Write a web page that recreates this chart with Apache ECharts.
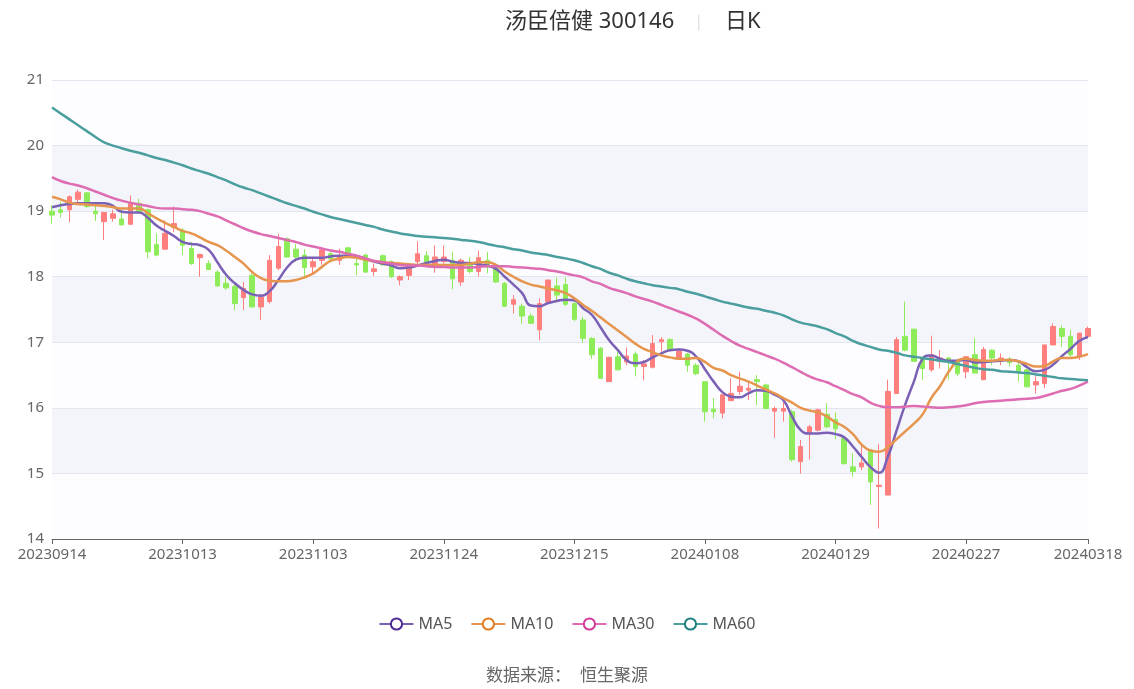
<!DOCTYPE html>
<html><head><meta charset="utf-8">
<script src="https://cdn.jsdelivr.net/npm/echarts@6/dist/echarts.min.js"></script>
<style>html,body{margin:0;padding:0;background:#fff}#c{width:1134px;height:689px}</style>
</head><body><div id="c"></div>
<script>
const dates = ['20230914','20230915','20230918','20230919','20230920','20230921','20230922','20230925','20230926','20230927','20230928',
'20231009','20231010','20231011','20231012','20231013','20231016','20231017','20231018','20231019','20231020','20231023','20231024','20231025','20231026','20231027','20231030','20231031',
'20231101','20231102','20231103','20231106','20231107','20231108','20231109','20231110','20231113','20231114','20231115','20231116','20231117','20231120','20231121','20231122','20231123','20231124','20231127','20231128','20231129','20231130',
'20231201','20231204','20231205','20231206','20231207','20231208','20231211','20231212','20231213','20231214','20231215','20231218','20231219','20231220','20231221','20231222','20231225','20231226','20231227','20231228','20231229',
'20240102','20240103','20240104','20240105','20240108','20240109','20240110','20240111','20240112','20240115','20240116','20240117','20240118','20240119','20240122','20240123','20240124','20240125','20240126','20240129','20240130','20240131',
'20240201','20240202','20240205','20240206','20240207','20240208','20240219','20240220','20240221','20240222','20240223','20240226','20240227','20240228','20240229',
'20240301','20240304','20240305','20240306','20240307','20240308','20240311','20240312','20240313','20240314','20240315','20240318'];

// [open, close, low, high]
const kline = [
[19.00,18.94,18.81,19.09],[19.02,18.98,18.90,19.14],[19.02,19.22,18.83,19.24],[19.18,19.29,19.09,19.33],[19.28,19.07,19.05,19.29],
[19.00,18.96,18.85,19.12],[18.84,18.98,18.56,18.99],[18.89,18.96,18.84,19.02],[18.88,18.79,18.78,19.02],[18.80,19.12,18.80,19.24],
[19.12,18.99,18.96,19.19],[19.02,18.38,18.28,19.04],[18.49,18.33,18.31,18.66],[18.42,18.66,18.42,18.86],[18.75,18.81,18.68,19.07],
[18.71,18.48,18.33,18.74],[18.43,18.20,18.18,18.53],[18.29,18.34,18.00,18.35],[18.20,18.11,18.10,18.25],[18.07,17.86,17.85,18.10],
[17.90,17.83,17.80,18.00],[17.85,17.59,17.49,17.92],[17.68,17.82,17.49,17.92],[18.02,17.54,17.53,18.05],[17.54,17.69,17.34,17.74],
[17.62,18.25,17.59,18.33],[18.13,18.46,18.10,18.65],[18.58,18.30,18.29,18.60],[18.42,18.30,18.23,18.50],[18.33,18.14,17.97,18.42],
[18.15,18.23,18.05,18.29],[18.25,18.41,18.18,18.41],[18.35,18.27,18.25,18.38],[18.25,18.30,18.18,18.43],[18.44,18.33,18.30,18.45],
[18.20,18.18,18.02,18.30],[18.33,18.07,18.06,18.35],[18.08,18.12,18.01,18.20],[18.32,18.18,18.17,18.34],[18.23,18.00,17.98,18.25],
[17.95,18.00,17.87,18.02],[18.02,18.18,17.95,18.20],[18.23,18.35,18.18,18.54],[18.32,18.20,18.18,18.39],[18.15,18.30,18.06,18.48],
[18.23,18.30,18.20,18.48],[18.25,17.97,17.81,18.38],[17.92,18.25,17.86,18.28],[18.20,18.08,18.05,18.30],[18.08,18.29,18.00,18.40],
[18.25,18.15,18.05,18.38],[18.18,17.92,17.91,18.20],[17.90,17.55,17.54,17.92],[17.58,17.65,17.44,17.72],[17.55,17.40,17.28,17.59],
[17.40,17.29,17.28,17.44],[17.19,17.59,17.03,17.67],[17.62,17.95,17.62,17.95],[17.86,17.72,17.64,17.99],[17.88,17.58,17.55,17.99],
[17.59,17.35,17.32,17.66],[17.34,17.06,16.99,17.39],[17.06,16.81,16.75,17.08],[16.91,16.45,16.45,16.93],[16.40,16.77,16.40,16.78],
[16.78,16.58,16.57,16.86],[16.70,16.79,16.65,16.92],[16.82,16.63,16.48,16.86],[16.63,16.67,16.42,16.73],[16.62,16.98,16.60,17.11],
[17.01,17.04,16.86,17.08],[17.04,16.88,16.87,17.06],[16.75,16.86,16.73,16.91],[16.82,16.65,16.55,16.84],[16.65,16.52,16.50,16.68],
[16.40,15.94,15.79,16.40],[15.98,15.94,15.84,16.15],[15.92,16.20,15.84,16.20],[16.11,16.22,16.11,16.45],[16.25,16.33,16.20,16.55],
[16.27,16.30,16.12,16.40],[16.43,16.40,16.04,16.50],[16.35,15.99,15.98,16.37],[15.95,15.99,15.54,16.02],[15.95,15.99,15.79,16.10],
[15.94,15.21,15.18,15.97],[15.18,15.41,15.00,15.51],[15.61,15.71,15.21,15.74],[15.66,15.97,15.64,15.99],[15.90,15.71,15.69,16.07],
[15.82,15.68,15.52,15.93],[15.54,15.15,15.13,15.54],[15.10,15.03,14.95,15.31],[15.10,15.16,15.05,15.45],[15.36,14.87,14.52,15.37],
[14.80,14.82,14.16,15.45],[14.67,16.25,14.67,16.43],[16.22,17.04,16.21,17.08],[17.09,16.88,16.86,17.62],[17.20,16.71,16.71,17.20],
[16.76,16.60,16.43,16.78],[16.58,16.81,16.55,17.10],[16.71,16.76,16.60,16.88],[16.76,16.71,16.43,16.78],[16.72,16.52,16.48,16.75],
[16.55,16.78,16.45,16.78],[16.81,16.53,16.53,17.06],[16.43,16.89,16.42,16.93],[16.88,16.76,16.65,16.89],[16.73,16.76,16.65,16.83],
[16.74,16.69,16.63,16.78],[16.65,16.55,16.40,16.73],[16.58,16.32,16.31,16.60],[16.35,16.40,16.22,16.48],[16.37,16.96,16.30,16.96],
[16.96,17.24,16.96,17.29],[17.21,17.09,16.93,17.26],[17.09,16.81,16.78,17.19],[16.78,17.14,16.73,17.14],[17.09,17.21,17.06,17.24]
];

const ma5 = [19.06,19.09,19.11,19.12,19.12,19.12,19.12,19.08,18.99,18.98,
18.98,18.90,18.78,18.70,18.62,18.53,18.50,18.48,18.41,18.22,
18.03,17.90,17.80,17.73,17.71,17.78,17.95,18.14,18.26,18.29,
18.29,18.29,18.31,18.32,18.32,18.30,18.27,18.23,18.20,18.17,
18.13,18.14,18.17,18.21,18.24,18.26,18.23,18.21,18.21,18.19,
18.17,18.12,18.00,17.88,17.75,17.56,17.55,17.60,17.63,17.65,
17.64,17.52,17.42,17.23,17.03,16.88,16.73,16.68,16.70,16.77,
16.83,16.88,16.89,16.87,16.78,16.59,16.40,16.24,16.17,16.16,
16.22,16.27,16.26,16.20,16.12,15.87,15.66,15.61,15.61,15.62,
15.60,15.55,15.41,15.25,15.10,15.01,15.25,15.65,16.05,16.40,
16.75,16.80,16.75,16.72,16.72,16.73,16.69,16.70,16.71,16.72,
16.73,16.71,16.62,16.56,16.58,16.66,16.79,16.90,17.02,17.08];

const ma10 = [19.22,19.18,19.13,19.11,19.10,19.09,19.08,19.06,19.04,19.04,
19.04,18.97,18.89,18.82,18.76,18.70,18.66,18.60,18.53,18.48,
18.40,18.30,18.20,18.07,17.98,17.94,17.93,17.93,17.95,17.99,
18.05,18.15,18.24,18.28,18.30,18.29,18.26,18.24,18.22,18.21,
18.20,18.19,18.18,18.18,18.18,18.18,18.18,18.18,18.20,18.22,
18.22,18.18,18.08,18.00,17.93,17.88,17.85,17.82,17.79,17.75,
17.67,17.57,17.48,17.38,17.28,17.18,17.08,16.98,16.90,16.85,
16.80,16.77,16.75,16.75,16.76,16.70,16.61,16.57,16.50,16.45,
16.40,16.34,16.28,16.22,16.15,16.08,16.00,15.96,15.93,15.87,
15.78,15.71,15.60,15.44,15.35,15.33,15.40,15.52,15.64,15.76,
15.90,16.15,16.33,16.55,16.71,16.75,16.73,16.72,16.72,16.73,
16.73,16.71,16.67,16.63,16.64,16.71,16.76,16.76,16.78,16.82];

const ma30 = [19.52,19.46,19.42,19.39,19.35,19.30,19.25,19.20,19.16,19.13,
19.10,19.08,19.05,19.04,19.04,19.03,19.02,19.00,18.96,18.92,
18.86,18.80,18.74,18.69,18.65,18.62,18.59,18.56,18.53,18.49,
18.46,18.43,18.40,18.38,18.35,18.32,18.28,18.24,18.22,18.20,
18.18,18.17,18.17,18.16,18.15,18.15,18.14,18.14,18.14,18.15,
18.16,18.16,18.16,18.15,18.14,18.13,18.12,18.10,18.08,18.05,
18.02,17.99,17.93,17.89,17.83,17.79,17.75,17.70,17.66,17.62,
17.57,17.52,17.47,17.42,17.36,17.28,17.19,17.10,17.02,16.95,
16.90,16.85,16.80,16.75,16.69,16.62,16.55,16.48,16.43,16.39,
16.33,16.27,16.21,16.16,16.08,16.03,16.01,16.01,16.02,16.03,
16.02,16.01,16.00,16.01,16.02,16.04,16.07,16.09,16.10,16.11,
16.12,16.13,16.14,16.15,16.18,16.22,16.26,16.29,16.34,16.40];

const ma60 = [20.58,20.49,20.40,20.31,20.22,20.13,20.05,20.00,19.96,19.92,
19.89,19.85,19.81,19.78,19.74,19.70,19.65,19.61,19.57,19.52,
19.47,19.41,19.36,19.32,19.27,19.22,19.17,19.12,19.08,19.04,
18.99,18.95,18.91,18.88,18.85,18.82,18.79,18.76,18.72,18.69,
18.66,18.64,18.62,18.61,18.60,18.59,18.58,18.56,18.55,18.53,
18.50,18.47,18.45,18.42,18.40,18.37,18.35,18.33,18.30,18.28,
18.25,18.21,18.16,18.12,18.06,18.02,17.97,17.93,17.90,17.87,
17.85,17.83,17.81,17.77,17.74,17.70,17.66,17.62,17.59,17.56,
17.53,17.51,17.48,17.45,17.41,17.35,17.30,17.27,17.24,17.20,
17.14,17.09,17.02,16.97,16.93,16.89,16.87,16.84,16.80,16.78,
16.76,16.74,16.72,16.70,16.67,16.64,16.61,16.59,16.58,16.56,
16.55,16.54,16.53,16.51,16.49,16.47,16.45,16.44,16.43,16.42];

const titleMain = '汤臣倍健 300146';
const titleSub = '日K';
const sourceText = '数据来源：  恒生聚源';
const maNames = ['MA5','MA10','MA30','MA60'];
const maData = [ma5, ma10, ma30, ma60];
const maLine = ['#7b61b6','#e5954d','#dd6cb2','#4b9e9e'];
const maDot = ['#4b2a94','#e07b20','#d33a98','#1e7f7f'];

const font = "'Noto Sans','Noto Sans CJK SC',sans-serif";
const chart = echarts.init(document.getElementById('c'));
const lastIdx = dates.length - 1;
chart.setOption({
  animation: false,
  textStyle: { fontFamily: font },
  title: [{
    text: '{a|' + titleMain + '}{s||}{a|' + titleSub + '}',
    left: 500, top: 6,
    textStyle: { rich: {
      a: { fontSize: 22, fontWeight: 'normal', color: '#333', fontFamily: font },
      s: { fontSize: 16, fontWeight: 'normal', color: '#e0e0e0', fontFamily: font, padding: [0, 22, 0, 20] }
    } }
  }, {
    text: sourceText, left: 'center', top: 663,
    textStyle: { fontSize: 17, fontWeight: 'normal', color: '#666', fontFamily: font }
  }],
  legend: {
    data: maNames, bottom: 52, left: 'center',
    itemWidth: 34, itemHeight: 14, itemGap: 18,
    textStyle: { fontSize: 16, color: '#555', fontFamily: font }
  },
  grid: { left: 52, right: 46, top: 80, bottom: 150 },
  xAxis: {
    type: 'category', data: dates, boundaryGap: false,
    axisLine: { lineStyle: { color: '#666' } },
    axisTick: { lineStyle: { color: '#666' } },
    axisLabel: {
      color: '#666', fontSize: 15, margin: 8,
      interval: (i) => i % 15 === 0 || i === lastIdx
    },
    splitLine: { show: false }
  },
  yAxis: {
    type: 'value', min: 14, max: 21, interval: 1,
    axisLine: { show: false }, axisTick: { show: false },
    axisLabel: { color: '#666', fontSize: 15, margin: 8 },
    splitLine: { lineStyle: { color: '#e2e6f0' } },
    splitArea: { show: true, areaStyle: { color: ['#fdfcfe', '#f4f5fa'] } }
  },
  series: [{
    type: 'candlestick', name: '日K', data: kline, barWidth: 5,
    itemStyle: { color: '#ff7f7f', color0: '#8eec5a', borderColor: '#ff7f7f', borderColor0: '#8eec5a', borderWidth: 1 }
  }].concat(maNames.map((n, k) => ({
    type: 'line', name: n, data: maData[k], smooth: true,
    symbol: 'emptyCircle', symbolSize: 12, showSymbol: false,
    itemStyle: { color: maDot[k], borderWidth: 2.5 },
    lineStyle: { color: maLine[k], width: 2.5 },
    z: 3
  })))
});
</script></body></html>
